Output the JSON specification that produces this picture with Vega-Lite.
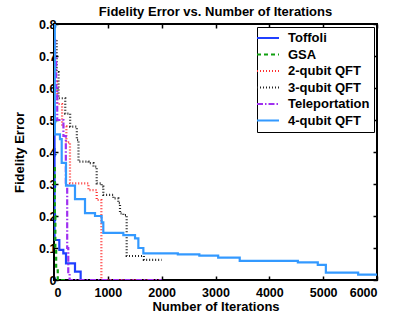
{
  "$schema": "https://vega.github.io/schema/vega-lite/v6.json",
  "autosize": {"type": "none"},
  "width": 323,
  "height": 256,
  "padding": {"left": 54, "top": 24, "right": 38, "bottom": 36},
  "title": {"text": "Fidelity Error vs. Number of Iterations", "font": "Liberation Sans", "fontSize": 13, "fontWeight": "bold", "color": "black", "offset": -1},
  "config": {
    "view": {"stroke": "black", "strokeWidth": 2},
    "axis": {"labelFont": "Liberation Sans", "labelFontWeight": "bold", "labelFontSize": 12.5, "labelColor": "black", "titleFont": "Liberation Sans", "titleFontWeight": "bold", "titleFontSize": 13, "titleColor": "black", "grid": false, "domain": false, "tickColor": "black", "tickSize": -4, "tickWidth": 1.5, "labelPadding": 2},
    "legend": {"labelFont": "Liberation Sans", "labelFontWeight": "bold", "labelFontSize": 13, "labelColor": "black"}
  },
  "data": {"values": [
    {"s": "Toffoli", "x": 0, "y": 0.52},
    {"s": "Toffoli", "x": 10, "y": 0.125},
    {"s": "Toffoli", "x": 99, "y": 0.094},
    {"s": "Toffoli", "x": 173, "y": 0.083},
    {"s": "Toffoli", "x": 223, "y": 0.052},
    {"s": "Toffoli", "x": 390, "y": 0.026},
    {"s": "Toffoli", "x": 495, "y": 0},
    {"s": "Toffoli", "x": 520, "y": 0},
    {"s": "GSA", "x": 0, "y": 0.35},
    {"s": "GSA", "x": 15, "y": 0.2},
    {"s": "GSA", "x": 25, "y": 0.1},
    {"s": "GSA", "x": 40, "y": 0.03},
    {"s": "GSA", "x": 70, "y": 0},
    {"s": "GSA", "x": 230, "y": 0},
    {"s": "2-qubit QFT", "x": 0, "y": 0.62},
    {"s": "2-qubit QFT", "x": 60, "y": 0.55},
    {"s": "2-qubit QFT", "x": 150, "y": 0.48},
    {"s": "2-qubit QFT", "x": 230, "y": 0.43},
    {"s": "2-qubit QFT", "x": 297, "y": 0.302},
    {"s": "2-qubit QFT", "x": 640, "y": 0.281},
    {"s": "2-qubit QFT", "x": 793, "y": 0.25},
    {"s": "2-qubit QFT", "x": 880, "y": 0},
    {"s": "2-qubit QFT", "x": 2000, "y": 0},
    {"s": "3-qubit QFT", "x": 0, "y": 0.75},
    {"s": "3-qubit QFT", "x": 50, "y": 0.65},
    {"s": "3-qubit QFT", "x": 85, "y": 0.568},
    {"s": "3-qubit QFT", "x": 209, "y": 0.52},
    {"s": "3-qubit QFT", "x": 300, "y": 0.479},
    {"s": "3-qubit QFT", "x": 424, "y": 0.438},
    {"s": "3-qubit QFT", "x": 455, "y": 0.37},
    {"s": "3-qubit QFT", "x": 640, "y": 0.365},
    {"s": "3-qubit QFT", "x": 733, "y": 0.354},
    {"s": "3-qubit QFT", "x": 793, "y": 0.302},
    {"s": "3-qubit QFT", "x": 885, "y": 0.292},
    {"s": "3-qubit QFT", "x": 916, "y": 0.266},
    {"s": "3-qubit QFT", "x": 1102, "y": 0.255},
    {"s": "3-qubit QFT", "x": 1195, "y": 0.24},
    {"s": "3-qubit QFT", "x": 1226, "y": 0.208},
    {"s": "3-qubit QFT", "x": 1288, "y": 0.203},
    {"s": "3-qubit QFT", "x": 1350, "y": 0.075},
    {"s": "3-qubit QFT", "x": 1670, "y": 0.063},
    {"s": "3-qubit QFT", "x": 2000, "y": 0.063},
    {"s": "Teleportation", "x": 0, "y": 0.75},
    {"s": "Teleportation", "x": 20, "y": 0.7},
    {"s": "Teleportation", "x": 40, "y": 0.6},
    {"s": "Teleportation", "x": 60, "y": 0.5},
    {"s": "Teleportation", "x": 175, "y": 0.45},
    {"s": "Teleportation", "x": 220, "y": 0.3},
    {"s": "Teleportation", "x": 245, "y": 0.1},
    {"s": "Teleportation", "x": 265, "y": 0.02},
    {"s": "Teleportation", "x": 290, "y": 0},
    {"s": "Teleportation", "x": 2000, "y": 0},
    {"s": "4-qubit QFT", "x": 0, "y": 0.8},
    {"s": "4-qubit QFT", "x": 15, "y": 0.455},
    {"s": "4-qubit QFT", "x": 111, "y": 0.44},
    {"s": "4-qubit QFT", "x": 143, "y": 0.366},
    {"s": "4-qubit QFT", "x": 223, "y": 0.295},
    {"s": "4-qubit QFT", "x": 390, "y": 0.253},
    {"s": "4-qubit QFT", "x": 576, "y": 0.209},
    {"s": "4-qubit QFT", "x": 762, "y": 0.2},
    {"s": "4-qubit QFT", "x": 885, "y": 0.18},
    {"s": "4-qubit QFT", "x": 916, "y": 0.147},
    {"s": "4-qubit QFT", "x": 1288, "y": 0.14},
    {"s": "4-qubit QFT", "x": 1505, "y": 0.13},
    {"s": "4-qubit QFT", "x": 1567, "y": 0.1},
    {"s": "4-qubit QFT", "x": 1660, "y": 0.083},
    {"s": "4-qubit QFT", "x": 2300, "y": 0.08},
    {"s": "4-qubit QFT", "x": 2700, "y": 0.076},
    {"s": "4-qubit QFT", "x": 3050, "y": 0.07},
    {"s": "4-qubit QFT", "x": 3450, "y": 0.06},
    {"s": "4-qubit QFT", "x": 4530, "y": 0.055},
    {"s": "4-qubit QFT", "x": 4900, "y": 0.047},
    {"s": "4-qubit QFT", "x": 5050, "y": 0.023},
    {"s": "4-qubit QFT", "x": 5650, "y": 0.017},
    {"s": "4-qubit QFT", "x": 6000, "y": 0.017}
  ]},
  "layer": [
    {
      "mark": {"type": "line", "interpolate": "step-after", "clip": true},
      "encoding": {
        "x": {"field": "x", "type": "quantitative", "scale": {"domain": [0, 6000], "nice": false}, "axis": {"title": "Number of Iterations", "format": "d", "values": [0, 1000, 2000, 3000, 4000, 5000, 6000], "labelPadding": 10, "titlePadding": 2}},
        "y": {"field": "y", "type": "quantitative", "scale": {"domain": [0, 0.8], "nice": false}, "axis": {"title": "Fidelity Error", "values": [0, 0.1, 0.2, 0.3, 0.4, 0.5, 0.6, 0.7, 0.8], "labelExpr": "datum.value == 0 ? '0' : format(datum.value, '.1f')", "titlePadding": 12}},
        "color": {"field": "s", "type": "nominal", "sort": null, "title": null,
          "scale": {"domain": ["Toffoli", "GSA", "2-qubit QFT", "3-qubit QFT", "Teleportation", "4-qubit QFT"], "range": ["#2040ff", "#10a010", "#ff3030", "#222222", "#a030f0", "#3399ff"]},
          "legend": {"orient": "top-right", "offset": 3, "strokeColor": "black", "fillColor": "white", "padding": 4, "symbolType": "M-2,0L2,0", "symbolSize": 121, "symbolStrokeWidth": 2.2, "rowPadding": 2.5, "labelOffset": 13, "labelLimit": 200}},
        "strokeDash": {"field": "s", "type": "nominal", "sort": null, "title": null,
          "scale": {"domain": ["Toffoli", "GSA", "2-qubit QFT", "3-qubit QFT", "Teleportation", "4-qubit QFT"], "range": [[1, 0], [4, 3], [1, 2], [1, 2], [6, 2, 1.5, 2], [1, 0]]}},
        "strokeWidth": {"field": "s", "type": "nominal", "legend": null,
          "scale": {"domain": ["Toffoli", "GSA", "2-qubit QFT", "3-qubit QFT", "Teleportation", "4-qubit QFT"], "range": [2.2, 2.2, 1.2, 1.2, 2.5, 2.6]}},
        "order": {"field": "x"}
      }
    },
    {
      "mark": {"type": "line", "opacity": 0},
      "encoding": {
        "x": {"field": "x", "type": "quantitative", "scale": {"domain": [0, 6000], "nice": false}, "axis": {"orient": "top", "title": null, "labels": false, "values": [0, 1000, 2000, 3000, 4000, 5000, 6000]}},
        "y": {"field": "y", "type": "quantitative", "scale": {"domain": [0, 0.8], "nice": false}, "axis": {"orient": "right", "title": null, "labels": false, "values": [0, 0.1, 0.2, 0.3, 0.4, 0.5, 0.6, 0.7, 0.8]}},
        "detail": {"field": "s"}
      }
    }
  ],
  "resolve": {"axis": {"x": "independent", "y": "independent"}}
}
